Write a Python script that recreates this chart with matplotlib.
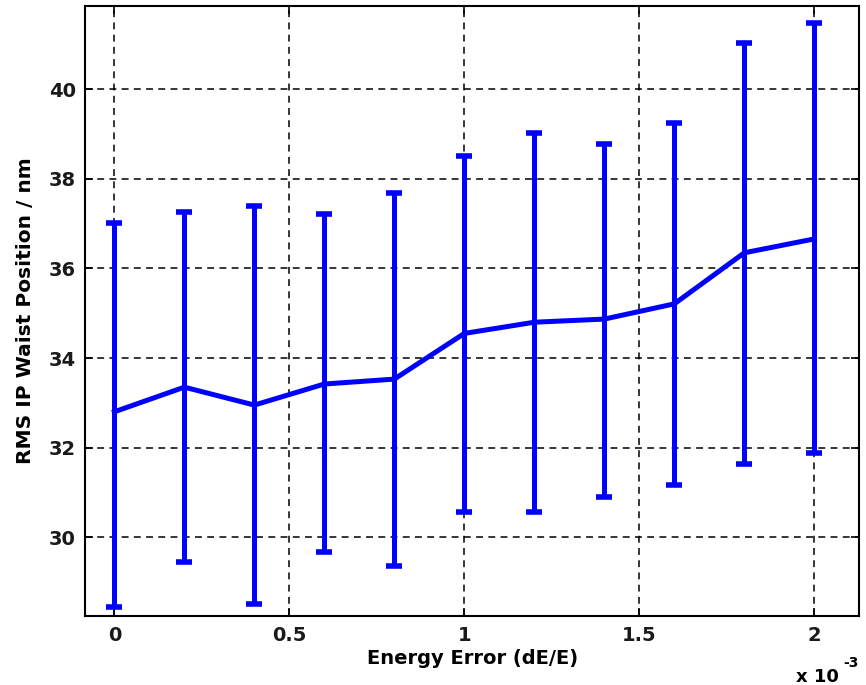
import matplotlib
matplotlib.use('Agg')
import numpy as np
import matplotlib.pyplot as plt

plt.rcParams['font.family'] = ['DejaVu Sans']

# energy error in units of 1e-3
energy_err = [0.0, 0.2, 0.4, 0.6, 0.8, 1.0, 1.2, 1.4, 1.6, 1.8, 2.0]
# mean RMS waist position (nm) and error bar ends
waist_mean = [32.80, 33.35, 32.95, 33.42, 33.53, 34.55, 34.80, 34.87, 35.21, 36.35, 36.66]
waist_upper = [37.01, 37.26, 37.40, 37.22, 37.69, 38.51, 39.03, 38.77, 39.24, 41.03, 41.47]
waist_lower = [28.45, 29.44, 28.50, 29.66, 29.36, 30.56, 30.56, 30.89, 31.17, 31.64, 31.87]

x_ticks = [0, 0.5, 1, 1.5, 2]
x_ticklabels = ['0', '0.5', '1', '1.5', '2']
y_ticks = [30, 32, 34, 36, 38, 40]

mean = np.array(waist_mean)
yerr = [mean - np.array(waist_lower), np.array(waist_upper) - mean]

fig = plt.figure(figsize=(8.66, 6.85), dpi=100)
ax = fig.add_axes([0.0985, 0.1007, 0.8935, 0.8905])

ax.errorbar(energy_err, waist_mean, yerr=yerr, color='#0000ff', lw=3.6,
            elinewidth=3.6, capsize=5.6, capthick=4.0, zorder=3)

ax.set_xlim(-0.083, 2.128)
ax.set_ylim(28.24, 41.86)
ax.set_xticks(x_ticks)
ax.set_xticklabels(x_ticklabels)
ax.set_yticks(y_ticks)

ax.grid(True, color='black', linestyle=(0, (4.5, 3.5)), linewidth=1.1)
ax.set_axisbelow(True)
ax.tick_params(direction='in', length=6, width=1.2, top=True, right=True,
               labelsize=14, pad=7)
for lab in ax.get_xticklabels() + ax.get_yticklabels():
    lab.set_fontweight('bold')
    lab.set_color('#1a1a1a')
for sp in ax.spines.values():
    sp.set_linewidth(1.5)
    sp.set_color('black')

ax.set_xlabel('Energy Error (dE/E)', fontsize=14, fontweight='bold', labelpad=3)
ax.set_ylabel('RMS IP Waist Position / nm', fontsize=14.5, fontweight='bold', labelpad=10)

fig.text(0.919, 0.005, 'x 10', fontsize=13, fontweight='bold')
fig.text(0.974, 0.027, '-3', fontsize=10, fontweight='bold')

plt.savefig('out.png', dpi=100)
plt.close()
